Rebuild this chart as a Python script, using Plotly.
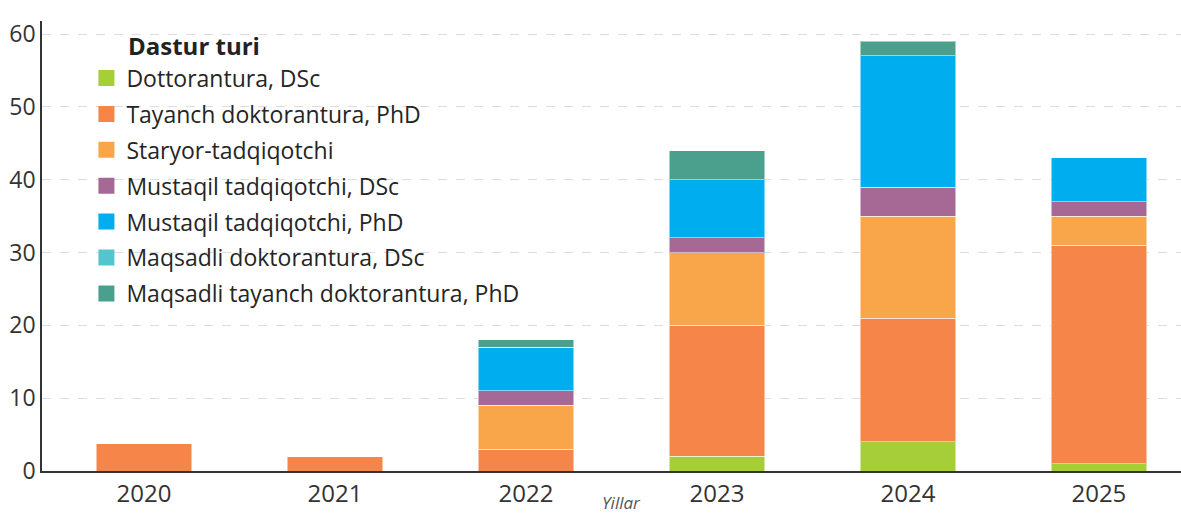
import plotly.graph_objects as go

years = ["2020", "2021", "2022", "2023", "2024", "2025"]
series_names = [
    "Dottorantura, DSc",
    "Tayanch doktorantura, PhD",
    "Staryor-tadqiqotchi",
    "Mustaqil tadqiqotchi, DSc",
    "Mustaqil tadqiqotchi, PhD",
    "Maqsadli doktorantura, DSc",
    "Maqsadli tayanch doktorantura, PhD",
]
dottorantura_dsc = [0, 0, 0, 2, 4, 1]
tayanch_phd = [3.8, 2, 3, 18, 17, 30]
staryor = [0, 0, 6, 10, 14, 4]
mustaqil_dsc = [0, 0, 2, 2, 4, 2]
mustaqil_phd = [0, 0, 6, 8, 18, 6]
maqsadli_dsc = [0, 0, 0, 0, 0, 0]
maqsadli_tayanch_phd = [0, 0, 1, 4, 2, 0]

values = [dottorantura_dsc, tayanch_phd, staryor, mustaqil_dsc,
          mustaqil_phd, maqsadli_dsc, maqsadli_tayanch_phd]
colors = ["#a6ce39", "#f58549", "#f9a64a", "#a66996", "#00aeef", "#54c4cf", "#4aa08d"]

FONT = "Open Sans"
fig = go.Figure()
for name, vals, col in zip(series_names, values, colors):
    fig.add_trace(go.Bar(
        x=years, y=vals, name=name,
        marker=dict(color=col, line=dict(color="rgba(255,255,255,0.5)", width=1)),
        legendgroup=name, showlegend=False,
    ))
    # legend entry with a larger square swatch, tied to the bar trace
    fig.add_trace(go.Scatter(
        x=[None], y=[None], mode="markers", name=name,
        marker=dict(symbol="square", size=16, color=col),
        legendgroup=name, showlegend=True, hoverinfo="skip",
    ))

W, H = 1181, 514
ML, MR, MT, MB = 42, 0, 21, 43
pw = W - ML - MR
ph = H - MT - MB

fig.update_layout(
    barmode="stack",
    bargap=0.5,
    width=W, height=H,
    margin=dict(l=ML, r=MR, t=MT, b=MB),
    plot_bgcolor="white", paper_bgcolor="white",
    font=dict(family=FONT, color="#333333"),
    showlegend=True,
    legend=dict(
        x=0.039, y=0.921, xanchor="left", yanchor="top",
        font=dict(size=23, color="#252525", family=FONT),
        bgcolor="rgba(0,0,0,0)",
        tracegroupgap=3,
        traceorder="grouped",
        itemsizing="trace",
    ),
    xaxis=dict(
        type="category",
        range=[-0.534, 5.43],
        showline=True, linecolor="#333333", linewidth=1.5,
        ticks="", tickfont=dict(size=24, color="#333333"),
        showgrid=False,
    ),
    yaxis=dict(
        range=[0, 61.8],
        tickvals=[0, 10, 20, 30, 40, 50, 60],
        showline=True, linecolor="#333333", linewidth=1.5,
        ticks="", tickfont=dict(size=23, color="#333333"),
        showgrid=True, gridcolor="#dddddd", griddash="dash", gridwidth=1,
        zeroline=False,
    ),
    annotations=[
        dict(text="<b>Dastur turi</b>", x=(126 - ML) / pw, xref="paper",
             y=(H - MB - 45) / ph, yref="paper",
             showarrow=False, font=dict(size=24, color="#222222", family=FONT),
             xanchor="left", yanchor="middle"),
        dict(text="<i>Yillar</i>", x=2.5, xref="x", y=-0.069, yref="paper",
             showarrow=False, font=dict(size=17, color="#555555", family=FONT),
             xanchor="center", yanchor="middle"),
    ],
)

fig.write_html(
    "out.html",
    config={"displayModeBar": False},
    post_script="document.body.style.margin='0';document.body.style.overflow='hidden';",
)
